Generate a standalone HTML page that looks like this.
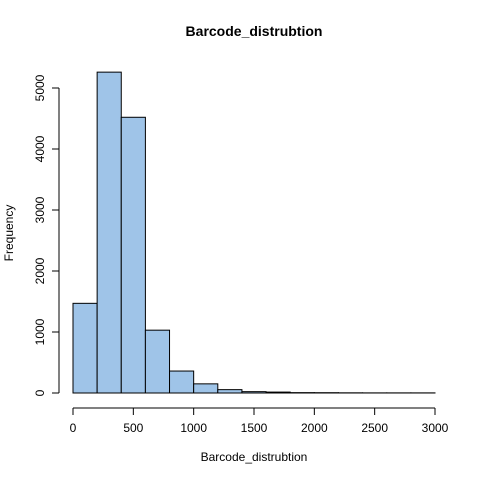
<!DOCTYPE html>
<html><head><meta charset="utf-8"><style>body{margin:0;background:#fff}svg{display:block;font-family:"Liberation Sans",sans-serif}</style></head>
<body>
<svg id="c" width="480" height="480"></svg>
<script>
const binStarts=[0,200,400,600,800,1000,1200,1400,1600,1800,2000,2200,2400,2600,2800];
const binWidth=200;
const counts=[1470,5260,4520,1030,360,150,55,22,15,6,5,3,2,2,2];
const xTicks=[0,500,1000,1500,2000,2500,3000];
const yTicks=[0,1000,2000,3000,4000,5000];
const svg=document.getElementById('c');
const NS='http://www.w3.org/2000/svg';
const X=v=>73+v*(435-73)/3000;
const Y=v=>393-v*(393-88)/5000;
function el(t,a,p){const e=document.createElementNS(NS,t);for(const k in a)e.setAttribute(k,a[k]);(p||svg).appendChild(e);return e;}
const bars=el('g',{});


counts.forEach((c,i)=>{const r=el('rect',{x:X(binStarts[i]),y:Y(c),width:X(binStarts[i]+binWidth)-X(binStarts[i]),height:Y(0)-Y(c),fill:'#9fc4e8',stroke:'#000','stroke-width':1},bars);

});
const xa=el('g',{});


el('line',{x1:X(0),x2:X(3000),y1:408,y2:408,stroke:'#000'},xa);
xTicks.forEach(t=>{el('line',{x1:X(t),x2:X(t),y1:408,y2:415,stroke:'#000'},xa);
const tx=el('text',{x:X(t),y:432,'text-anchor':'middle','font-size':12},xa);tx.textContent=t;

});
const ya=el('g',{});


el('line',{x1:59,x2:59,y1:Y(0),y2:Y(5000),stroke:'#000'},ya);
yTicks.forEach(t=>{el('line',{x1:52,x2:59,y1:Y(t),y2:Y(t),stroke:'#000'},ya);
const tx=el('text',{x:44,y:Y(t),'text-anchor':'middle','font-size':12,transform:`rotate(-90 44 ${Y(t)})`},ya);tx.textContent=t;

});
const ti=el('text',{x:254,y:36,'text-anchor':'middle','font-size':14,'font-weight':'bold'});ti.textContent='Barcode_distrubtion';


const xt=el('text',{x:254,y:461,'text-anchor':'middle','font-size':12});xt.textContent='Barcode_distrubtion';


const yt=el('text',{x:13,y:233,'text-anchor':'middle','font-size':12,transform:'rotate(-90 13 233)'});yt.textContent='Frequency';


</script>
</body></html>
